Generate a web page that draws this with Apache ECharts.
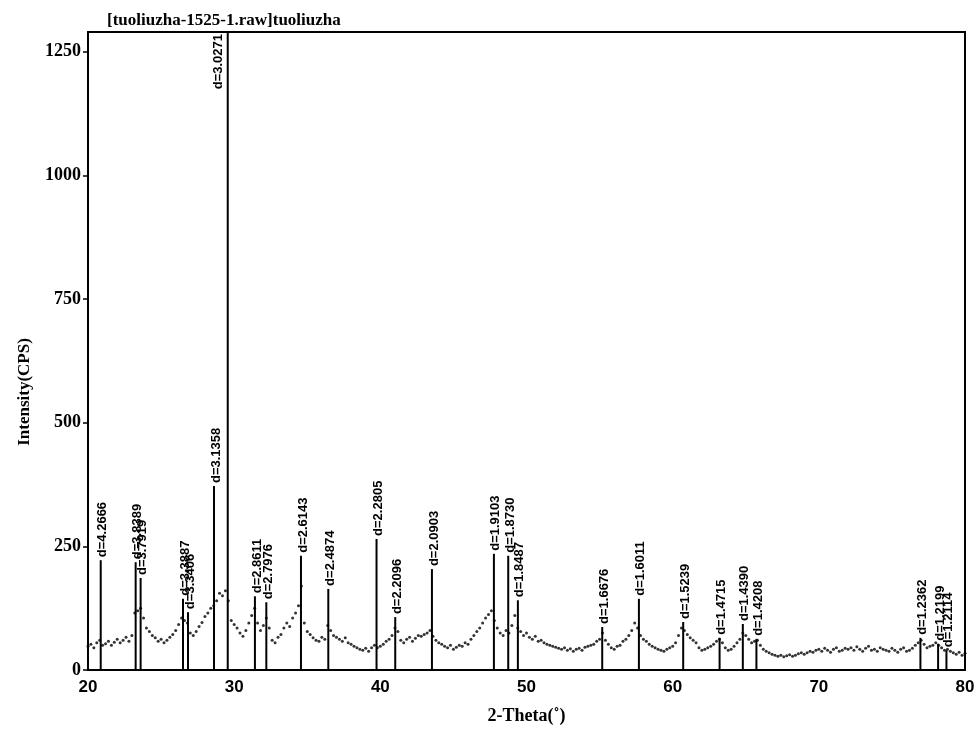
<!DOCTYPE html>
<html><head><meta charset="utf-8">
<script src="https://cdn.jsdelivr.net/npm/echarts@6/dist/echarts.min.js"></script>
<style>html,body{margin:0;padding:0;background:#fff}#c{width:979px;height:730px}</style>
</head><body><div id="c"></div>
<script>
// Peak positions (2-Theta), peak heights (CPS) and d-spacing labels
const peakTheta = [20.87, 23.26, 23.60, 26.50, 26.84, 28.62, 29.56, 31.42, 32.20, 34.57, 36.44, 39.74, 41.02, 43.53, 47.77, 48.75, 49.41, 55.18, 57.69, 60.72, 63.21, 64.80, 65.73, 76.95, 78.16, 78.73];
const peakHeight = [222, 218, 186, 144, 117, 372, 1290, 149, 137, 231, 164, 265, 107, 204, 235, 231, 141, 87, 144, 97, 65, 93, 63, 65, 53, 40];
const peakLabels = ['d=4.2666','d=3.8389','d=3.7919','d=3.3887','d=3.3406','d=3.1358','d=3.0271','d=2.8611','d=2.7976','d=2.6143','d=2.4874','d=2.2805','d=2.2096','d=2.0903','d=1.9103','d=1.8730','d=1.8487','d=1.6676','d=1.6011','d=1.5239','d=1.4715','d=1.4390','d=1.4208','d=1.2362','d=1.2199','d=1.2114'];

// Background scan (2-Theta from 20 to 80, step 0.2)
const bgStart = 20, bgStep = 0.2;
const bgIntensity = [
 48,52,45,55,60,50,
 53,58,50,56,62,55,60,66,58,70,
 115,120,125,105,85,
 78,70,65,58,62,55,60,66,72,
 80,92,105,100,95,75,
 70,78,88,96,108,115,125,
 130,140,155,150,160,
 140,100,92,85,75,68,80,95,
 110,125,95,80,90,105,85,
 60,55,66,72,85,95,88,105,
 115,130,170,95,78,
 72,65,60,58,66,62,
 90,80,70,66,
 62,58,65,55,52,48,45,42,40,44,38,45,
 50,45,48,
 52,58,62,70,85,78,60,
 55,62,66,58,64,70,68,72,
 75,80,68,60,55,
 52,48,45,50,42,46,50,48,55,52,
 62,70,78,85,95,105,112,120,
 100,85,75,70,
 80,75,90,110,85,78,
 70,75,66,62,68,58,60,55,52,
 50,48,46,44,42,45,40,43,38,42,44,40,46,
 48,50,52,58,62,75,60,52,
 45,42,48,50,
 58,62,70,80,95,85,70,62,
 58,52,48,45,42,40,38,42,45,48,55,70,
 85,80,72,65,60,
 55,45,40,42,45,48,52,58,
 62,55,45,40,42,
 48,55,62,75,70,
 62,55,58,60,50,42,
 38,35,32,30,28,30,27,29,31,28,30,33,35,32,
 35,38,36,40,42,38,44,40,36,42,45,38,40,44,42,
 45,40,47,42,38,44,48,40,42,38,45,42,40,38,44,
 40,36,42,45,38,40,44,50,55,
 60,52,45,48,50,55,
 50,45,40,42,38,35,32,36,30,34
];
const yTicks = [0, 250, 500, 750, 1000, 1250];

const bgData = bgIntensity.map((v, i) => [+(bgStart + i * bgStep).toFixed(2), v]);
const yMax = 1290;
const peakData = peakTheta.map((t, i) => {
  const item = { value: [t, peakHeight[i]] };
  if (peakHeight[i] >= yMax) {
    item.label = { position: [-2, 2], align: 'right', verticalAlign: 'bottom', distance: 0 };
  }
  return item;
});

const chart = echarts.init(document.getElementById('c'));
chart.setOption({
  animation: false,
  backgroundColor: '#fff',
  title: {
    text: '[tuoliuzha-1525-1.raw]tuoliuzha',
    left: 102, top: 7,
    textStyle: { fontFamily: 'Liberation Serif', fontWeight: 'bold', fontSize: 17, color: '#000' }
  },
  grid: { left: 88, right: 14, top: 32, bottom: 57, show: true, borderColor: '#000', borderWidth: 2, backgroundColor: 'transparent' },
  xAxis: {
    type: 'value', min: 20, max: 80, interval: 10,
    name: '2-Theta(˚)', nameLocation: 'middle', nameGap: 37,
    nameTextStyle: { fontFamily: 'Liberation Serif', fontWeight: 'bold', fontSize: 18, color: '#000' },
    axisLine: { lineStyle: { color: '#000', width: 2 } },
    axisTick: { show: false },
    splitLine: { show: false },
    axisLabel: { fontFamily: 'Liberation Sans', fontWeight: 'bold', fontSize: 17, color: '#000', margin: 9 }
  },
  yAxis: {
    type: 'value', min: 0, max: yMax, interval: 250,
    axisLine: { show: true, lineStyle: { color: '#000', width: 2 } },
    axisTick: { show: true, length: 5, lineStyle: { color: '#000', width: 1.5 } },
    splitLine: { show: false },
    axisLabel: {
      showMaxLabel: false, margin: 7,
      fontFamily: 'Liberation Serif', fontWeight: 'bold', fontSize: 18, color: '#000',
      formatter: v => (yTicks.indexOf(v) >= 0 ? String(v) : '')
    }
  },
  graphic: [{
    type: 'text', x: 25, y: 392, rotation: Math.PI / 2,
    style: { text: 'Intensity(CPS)', fontFamily: 'Liberation Serif', fontWeight: 'bold', fontSize: 17, fill: '#000', align: 'center', verticalAlign: 'middle' }
  }],
  series: [
    {
      type: 'scatter', data: bgData, symbolSize: 3,
      itemStyle: { color: '#000' }, silent: true, z: 2
    },
    {
      type: 'bar', data: peakData, barWidth: 2, barGap: '-100%',
      itemStyle: { color: '#000' }, z: 3,
      label: {
        show: true, position: [3, -3], rotate: 90,
        align: 'left', verticalAlign: 'middle',
        fontFamily: 'Liberation Sans', fontSize: 13, fontWeight: 'bold', color: '#000',
        formatter: p => peakLabels[p.dataIndex]
      }
    }
  ]
});
</script></body></html>
